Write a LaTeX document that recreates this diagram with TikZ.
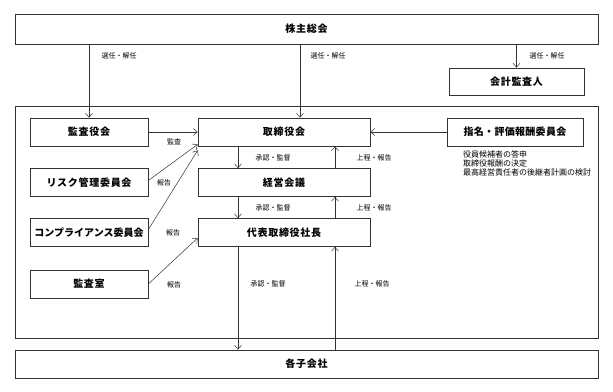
\documentclass[tikz,border=0pt]{standalone}
\usepackage{fontspec}
\setmainfont{Noto Sans CJK JP}
\usetikzlibrary{arrows.meta, positioning}

\begin{document}
\begin{tikzpicture}[x=1pt, y=-1pt,
        box/.style={draw=black!80, line width=0.7pt, minimum height=28pt, inner sep=0pt, font=\fontsize{10}{12}\selectfont\bfseries\addfontfeature{LetterSpace=7}},
        wide/.style={box, minimum width=583pt},
        side/.style={box, minimum width=118pt},
        core/.style={box, minimum width=172pt},
        lbl/.style={inner sep=0pt, font=\fontsize{7}{8}\selectfont},
        arr/.style={draw=black!80, line width=0.5pt, -{Straight Barb[length=4pt, width=7pt]}}
    ]
        \useasboundingbox (0,0) rectangle (613,391);

        % Cabecera y auditor externo
        \node[wide, minimum height=30pt] (kabunushi) at (306.5,29) {株主総会};
        \node[box, minimum width=135pt, minimum height=27pt] (kaikei) at (516.5,81.5) {会計監査人};

        % Marco de la empresa
        \draw[draw=black!80, line width=0.7pt] (15,106) rectangle (598,338);

        % Columna izquierda
        \node[side] (kansayaku) at (89,132) {監査役会};
        \node[side] (risk) at (89,182.5) {リスク管理委員会};
        \node[side, font=\fontsize{10}{12}\selectfont\bfseries] (comp) at (89,232.5) {コンプライアンス委員会};
        \node[side] (kansashitsu) at (89,284) {監査室};

        % Columna central
        \node[core] (torishimari) at (284,132) {取締役会};
        \node[core] (keiei) at (284,182.5) {経営会議};
        \node[core] (daihyo) at (284,232.5) {代表取締役社長};

        % Comite de nombramientos
        \node[box, minimum width=136pt, font=\fontsize{10}{12}\selectfont\bfseries\addfontfeature{LetterSpace=3}] (shimei) at (515,132) {指名・評価報酬委員会};
        \node[lbl, font=\fontsize{8}{9}\selectfont, align=left, anchor=north west] (shimeinote) at (463,150)
            {役員候補者の答申\\取締役報酬の決定\\最高経営責任者の後継者計画の検討};

        % Filiales
        \node[wide] (kogaisha) at (306.5,364) {各子会社};

        % Columnas de las flechas verticales
        \coordinate (tk) at (300,0);
        \coordinate (dn) at (238,0);
        \coordinate (up) at (335,0);

        % Nombramientos desde la junta
        \draw[arr] (kabunushi.south -| kansayaku.north) -- (kansayaku.north);
        \draw[arr] (kabunushi.south -| tk) -- (torishimari.north -| tk);
        \draw[arr] (kabunushi.south -| kaikei.north) -- (kaikei.north);
        \node[lbl] (sen1) at (119,56) {選任・解任};
        \node[lbl] (sen2) at (328,56) {選任・解任};
        \node[lbl] (sen3) at (547,56) {選任・解任};

        % Informes hacia el consejo
        \draw[arr] (kansayaku.east) -- (torishimari.west);
        \draw[arr] (shimei.west) -- (torishimari.east);
        \draw[arr] ([yshift=2pt]risk.east) -- ([yshift=2pt]torishimari.south west);
        \draw[arr] ([yshift=3pt]comp.east) -- ([yshift=-4pt]torishimari.south west);
        \draw[arr] (kansashitsu.east) -- ([yshift=-5.5pt]daihyo.west);
        \node[lbl] (kansa) at (174,142) {監査};
        \node[lbl] (hok1) at (164,183) {報告};
        \node[lbl] (hok2) at (173,233) {報告};
        \node[lbl] (hok3) at (174,285) {報告};

        % Aprobacion hacia abajo, informes hacia arriba
        \draw[arr] (torishimari.south -| dn) -- (keiei.north -| dn);
        \draw[arr] (keiei.north -| up) -- (torishimari.south -| up);
        \draw[arr] (keiei.south -| dn) -- (daihyo.north -| dn);
        \draw[arr] (daihyo.north -| up) -- (keiei.south -| up);
        \draw[arr] (daihyo.south -| dn) -- (kogaisha.north -| dn);
        \draw[arr] (kogaisha.north -| up) -- (daihyo.south -| up);
        \node[lbl] (sho1) at (273,158) {承認・監督};
        \node[lbl] (sho2) at (273,208) {承認・監督};
        \node[lbl] (sho3) at (268,284) {承認・監督};
        \node[lbl] (jo1) at (374,158) {上程・報告};
        \node[lbl] (jo2) at (374,208) {上程・報告};
        \node[lbl] (jo3) at (372,284) {上程・報告};
    \end{tikzpicture}
\end{document}
